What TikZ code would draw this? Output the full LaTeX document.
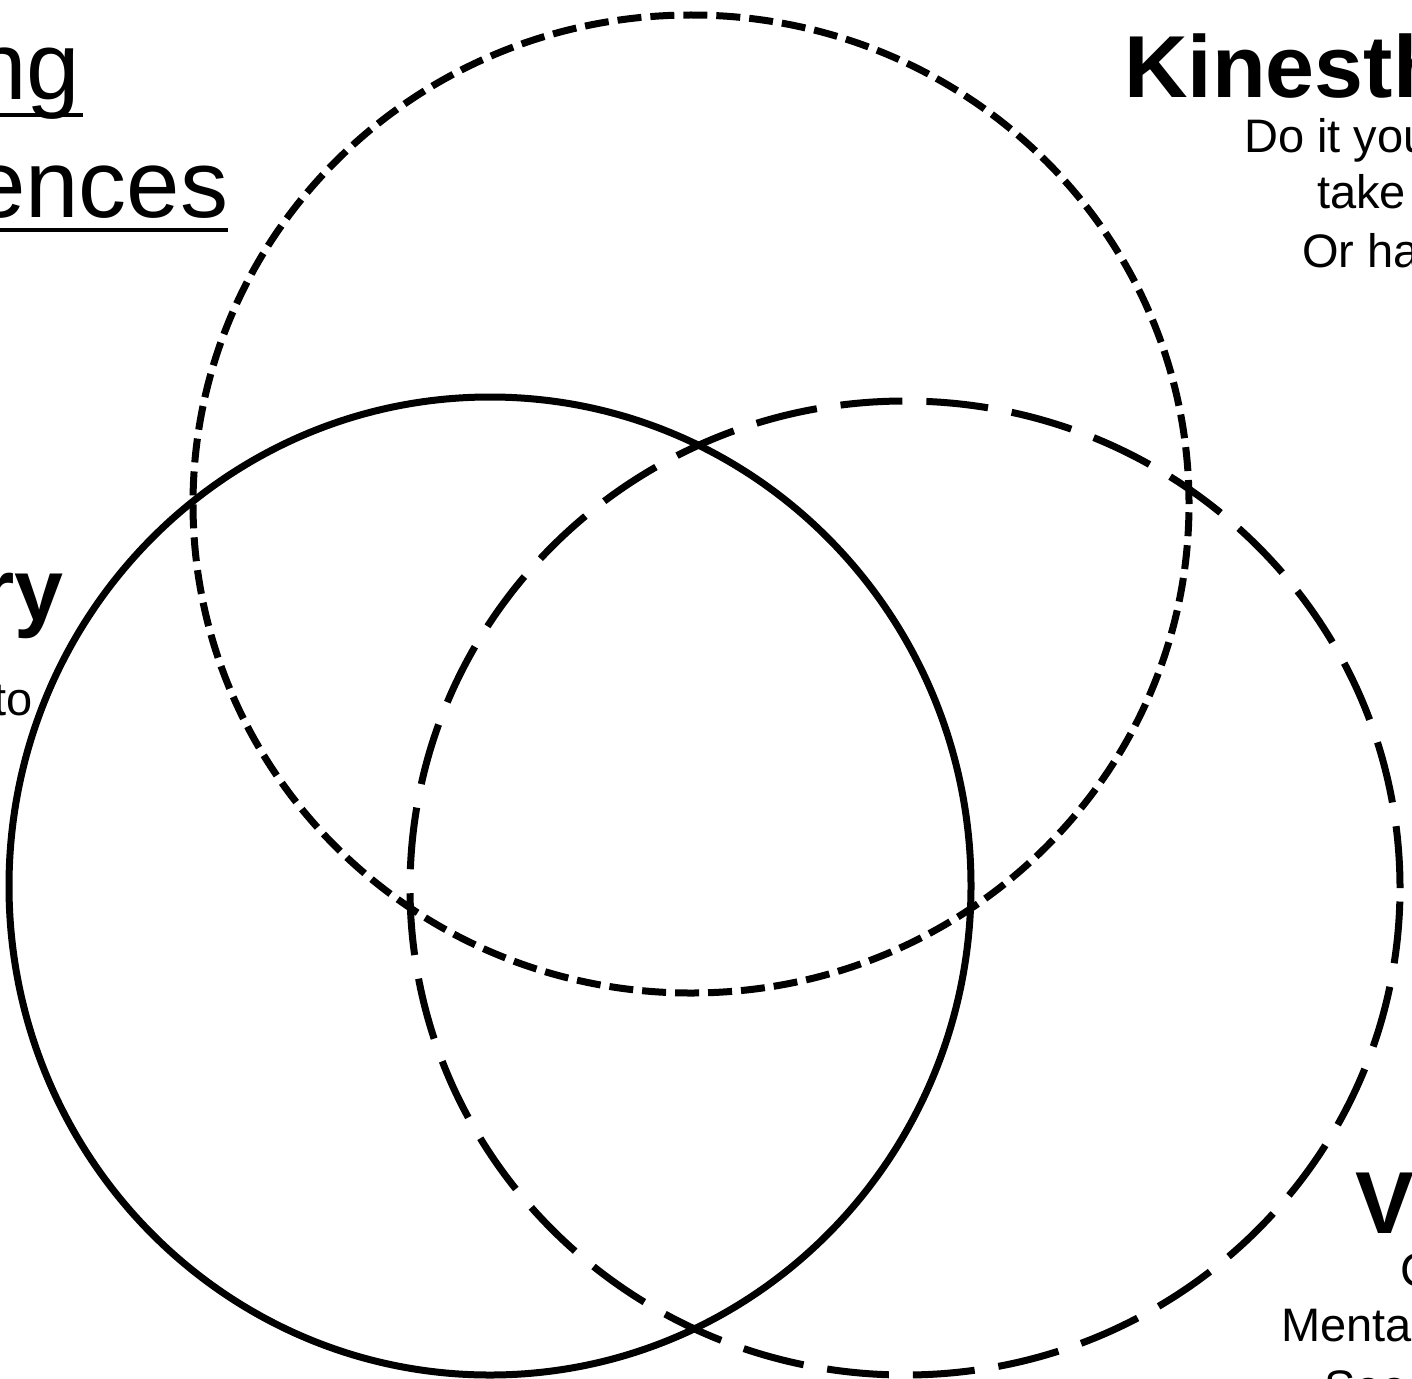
\documentclass[tikz,border=0pt]{standalone}
\usepackage{fontspec}
\setmainfont{Liberation Sans}
\begin{document}
\begin{tikzpicture}[x=1pt,y=-1pt,
  ring/.style={line width=7pt},
  shortdash/.style={ring, dash pattern=on 24pt off 9pt},
  longdash/.style={ring, dash pattern=on 62pt off 24pt},
  big/.style={inner sep=0pt, anchor=base west, font=\fontsize{96}{110}\selectfont},
  head/.style={inner sep=0pt, anchor=base west, font=\fontsize{88}{100}\selectfont\bfseries},
  body/.style={inner sep=0pt, anchor=base west, font=\fontsize{47}{57}\selectfont},
  uline/.style={line width=4.5pt}]
\useasboundingbox (0,0) rectangle (1412,1378);
\clip (0,0) rectangle (1412,1378);
\fill[white] (0,0) rectangle (1412,1378);
% circles
\draw[shortdash] (691,504) ellipse [x radius=498pt, y radius=489pt];
\draw[ring] (490,886) ellipse [x radius=481pt, y radius=489pt];
\draw[longdash] (905,888) ellipse [x radius=495pt, y radius=487pt];
% title fragments
\node[big] (t1) at (-27,100) {ng};
\node[big] (t2) at (-28,217) {ences};
\draw[uline] (0,115) -- (83,115);
\draw[uline] (0,230) -- (228,230);
% Kinesthetic
\node[head] (k0) at (1124,98) {Kinesth};
\node[body] (k1) at (1244,152) {Do it you};
\node[body] (k2) at (1317,208) {take};
\node[body] (k3) at (1302,267) {Or ha};
% Auditory
\node[head] (a0) at (-20,620) {ry};
\node[body] (a1) at (-7,715) {to};
% Visual
\node[head] (v0) at (1355,1233) {V};
\node[body] (v1) at (1400,1286) {C};
\node[body] (v2) at (1281,1341) {Menta};
\node[body] (v3) at (1324,1403) {See};
\end{tikzpicture}
\end{document}
